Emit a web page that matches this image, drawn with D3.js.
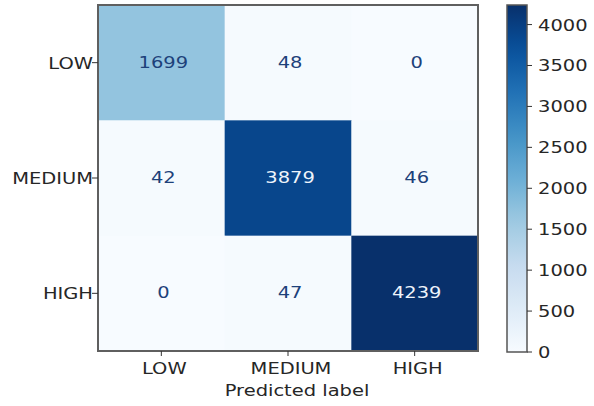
<!DOCTYPE html>
<html>
<head>
<meta charset="utf-8">
<script src="https://cdn.jsdelivr.net/npm/d3@7"></script>
<style>
  html, body { margin: 0; padding: 0; background: #fff; }
  svg { display: block; }
  text { font-family: "DejaVu Sans", sans-serif; fill: #262626; }
</style>
</head>
<body>
<script>
// Confusion matrix: rows = true label, columns = predicted label
const classes = ["LOW", "MEDIUM", "HIGH"];
const rowLow = [1699, 48, 0];
const rowMedium = [42, 3879, 46];
const rowHigh = [0, 47, 4239];
const matrix = [rowLow, rowMedium, rowHigh];
const colorbarTicks = [0, 500, 1000, 1500, 2000, 2500, 3000, 3500, 4000];
const xTitle = "Predicted label";

// Blues colormap as a piecewise-linear ramp
const bluesStops = ["#f7fbff", "#deebf7", "#c6dbef", "#9ecae1", "#6baed6",
                    "#4292c6", "#2171b5", "#08519c", "#08306b"];

const W = 594, H = 406;
const plot = { left: 98, top: 5, right: 478, bottom: 351 };
const cbar = { left: 507, right: 527, top: 5, bottom: 352 };
const SX = 1.18;     // horizontal text stretch
const FS = "16.5px"; // label font size

const flat = matrix.flat();
const vmin = d3.min(flat), vmax = d3.max(flat);

const ramp = d3.scaleLinear()
  .domain(d3.range(bluesStops.length).map(i => i / (bluesStops.length - 1)))
  .range(bluesStops)
  .interpolate(d3.interpolateRgb);
const color = v => ramp((v - vmin) / (vmax - vmin));

const svg = d3.select("body").append("svg")
  .attr("width", W).attr("height", H);

const x = d3.scaleBand().domain(classes).range([plot.left, plot.right]);
const y = d3.scaleBand().domain(classes).range([plot.top, plot.bottom]);

function stretchedText(sel, tx, ty) {
  return sel.attr("transform", `translate(${tx},${ty}) scale(${SX},1)`);
}

// cells
const cells = [];
matrix.forEach((row, i) => row.forEach((v, j) => cells.push({ r: classes[i], c: classes[j], v })));

svg.append("g").selectAll("rect").data(cells).join("rect")
  .attr("x", d => x(d.c)).attr("y", d => y(d.r))
  .attr("width", x.bandwidth() + 0.5).attr("height", y.bandwidth() + 0.5)
  .attr("fill", d => color(d.v));

const thresh = (vmax + vmin) / 2;
svg.append("g").selectAll("text").data(cells).join("text")
  .each(function (d) {
    stretchedText(d3.select(this), x(d.c) + x.bandwidth() / 2 + 2, y(d.r) + y.bandwidth() / 2 + 5);
  })
  .attr("text-anchor", "middle")
  .style("font-size", FS)
  .style("fill", d => d.v < thresh ? "#1d417a" : "#eef4fb")
  .text(d => d.v);

// frame
svg.append("rect")
  .attr("x", plot.left).attr("y", plot.top)
  .attr("width", plot.right - plot.left).attr("height", plot.bottom - plot.top)
  .attr("fill", "none").attr("stroke", "#5f5f5f").attr("stroke-width", 2);

// y axis ticks + labels
const yTicks = svg.append("g");
classes.forEach(c => {
  const cy = y(c) + y.bandwidth() / 2;
  yTicks.append("line").attr("x1", plot.left - 6).attr("x2", plot.left)
    .attr("y1", cy).attr("y2", cy).attr("stroke", "#333").attr("stroke-width", 1);
  stretchedText(yTicks.append("text"), plot.left - 5, cy + 6)
    .attr("text-anchor", "end").style("font-size", FS).text(c);
});

// x axis ticks + labels
const xTicks = svg.append("g");
classes.forEach(c => {
  const cx = x(c) + x.bandwidth() / 2;
  xTicks.append("line").attr("x1", cx).attr("x2", cx)
    .attr("y1", plot.bottom).attr("y2", plot.bottom + 5).attr("stroke", "#333").attr("stroke-width", 1);
  stretchedText(xTicks.append("text"), cx + 3, 374)
    .attr("text-anchor", "middle").style("font-size", FS).text(c);
});
stretchedText(svg.append("text"), (plot.left + plot.right) / 2 + 9, 396)
  .attr("text-anchor", "middle").style("font-size", FS).text(xTitle);

// colorbar
const defs = svg.append("defs");
const grad = defs.append("linearGradient").attr("id", "cbgrad")
  .attr("x1", 0).attr("y1", 1).attr("x2", 0).attr("y2", 0);
d3.range(0, 1.0001, 0.05).forEach(t => {
  grad.append("stop").attr("offset", t).attr("stop-color", ramp(t));
});
svg.append("rect")
  .attr("x", cbar.left).attr("y", cbar.top)
  .attr("width", cbar.right - cbar.left).attr("height", cbar.bottom - cbar.top)
  .attr("fill", "url(#cbgrad)")
  .attr("stroke", "#555").attr("stroke-width", 1.5);

const cy = d3.scaleLinear().domain([vmin, vmax]).range([cbar.bottom, cbar.top]);
const cbAxis = svg.append("g");
colorbarTicks.forEach(t => {
  cbAxis.append("line").attr("x1", cbar.right).attr("x2", cbar.right + 5)
    .attr("y1", cy(t)).attr("y2", cy(t)).attr("stroke", "#333").attr("stroke-width", 1);
  stretchedText(cbAxis.append("text"), cbar.right + 11, cy(t) + 6)
    .attr("text-anchor", "start").style("font-size", FS).text(t);
});
</script>
</body>
</html>
